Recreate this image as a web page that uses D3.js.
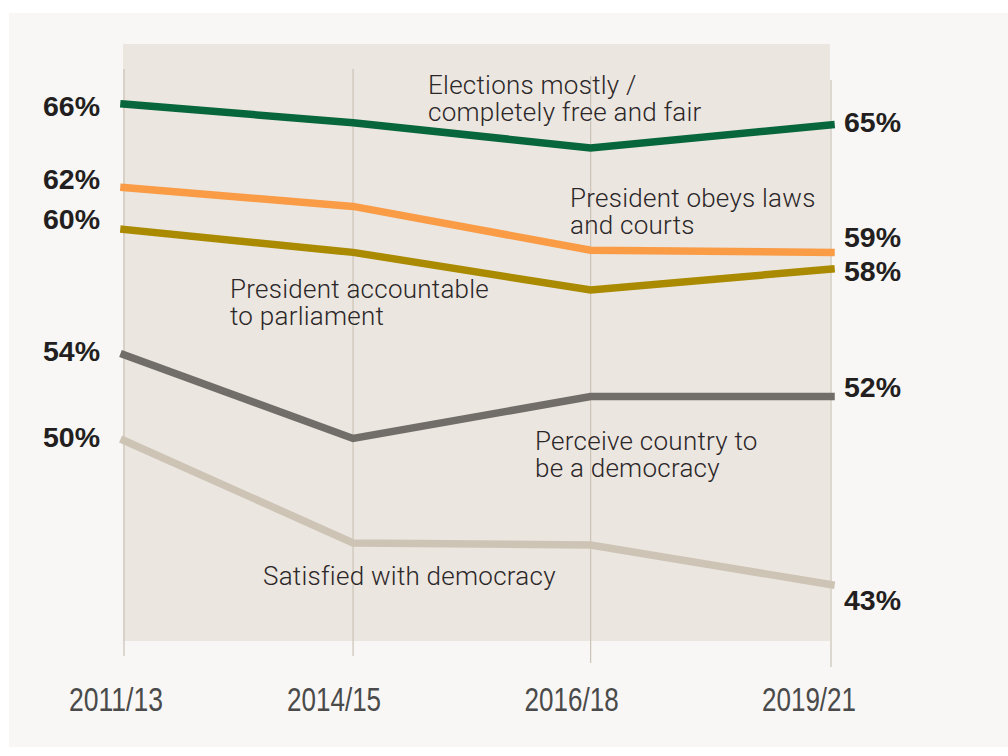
<!DOCTYPE html>
<html>
<head>
<meta charset="utf-8">
<script src="https://cdn.jsdelivr.net/npm/d3@7"></script>
<style>
  html, body { margin: 0; padding: 0; background: #ffffff; }
  svg { display: block; }
</style>
</head>
<body>
<svg id="chart" width="1008" height="756"></svg>
<script>
// ---------- DATA ----------
const periods = ["2011/13", "2014/15", "2016/18", "2019/21"];

const seriesNames = [
  "Satisfied with democracy",
  "Perceive country to be a democracy",
  "President accountable to parliament",
  "President obeys laws and courts",
  "Elections mostly / completely free and fair"
];

const satisfiedValues   = [49.9, 45.0, 44.9, 43.0];
const perceiveValues    = [54.0, 50.0, 52.0, 52.0];
const accountableValues = [60.0, 58.9, 57.1, 58.1];
const obeysValues       = [62.0, 61.1, 59.0, 58.9];
const electionsValues   = [66.0, 65.1, 63.9, 65.0];

const startLabels = ["50%", "54%", "60%", "62%", "66%"];
const endLabels   = ["43%", "52%", "58%", "59%", "65%"];

const annotationLines = [
  ["Satisfied with democracy"],
  ["Perceive country to", "be a democracy"],
  ["President accountable", "to parliament"],
  ["President obeys laws", "and courts"],
  ["Elections mostly /", "completely free and fair"]
];

// ---------- STYLE / LAYOUT ----------
const colors = ["#cdc4b5", "#716d68", "#a98a00", "#fa9b46", "#07663b"];
const startLabelShift = [-3, -4, -10, -9, 2];
const endLabelShift   = [15, -10, 2, -15, -3];
const annotationPos = [[263, 585], [535, 450], [230, 298], [570, 207], [428, 94]];
const xFrac = [0, 0.324, 0.66, 1];
const tickShift = [-8, -19, -19, -22];
const gridTop = [69, 69, 76, 80];
const gridBottom = [656, 656, 663, 667];

const plotLeft = 124, plotRight = 831;

const svg = d3.select("#chart");

// card background
svg.append("rect")
  .attr("x", 9).attr("y", 13).attr("width", 999).attr("height", 734)
  .attr("fill", "#f8f7f5");

// plot panel
svg.append("rect")
  .attr("x", 123).attr("y", 44).attr("width", 707).attr("height", 597)
  .attr("fill", "#ebe6e0");

const x = d3.scaleOrdinal()
  .domain(periods)
  .range(xFrac.map(f => plotLeft + f * (plotRight - plotLeft)));

const y = d3.scaleLinear().domain([43, 66]).range([584.7, 104]);

// grid lines
svg.append("g").selectAll("line")
  .data(periods)
  .join("line")
  .attr("x1", d => x(d)).attr("x2", d => x(d))
  .attr("y1", (d, i) => gridTop[i])
  .attr("y2", (d, i) => gridBottom[i])
  .attr("stroke", "#cbc3b6")
  .attr("stroke-width", 1.2);

// x axis labels
svg.append("g").selectAll("text")
  .data(periods)
  .join("text")
  .attr("x", (d, i) => x(d) + tickShift[i])
  .attr("y", 711)
  .attr("text-anchor", "middle")
  .attr("font-family", "'Liberation Sans Narrow', 'Liberation Sans', Arial, sans-serif")
  .attr("font-size", 33)
  .attr("textLength", 94)
  .attr("lengthAdjust", "spacingAndGlyphs")
  .attr("fill", "#4a4a4a")
  .text(d => d);

const allSeries = [satisfiedValues, perceiveValues, accountableValues, obeysValues, electionsValues];

const line = d3.line()
  .x((d, i) => x(periods[i]))
  .y(d => y(d));

// annotations (drawn beneath lines)
const annG = svg.append("g");
annotationLines.forEach((lines, si) => {
  const t = annG.append("text")
    .attr("font-family", "Roboto, 'Liberation Sans', sans-serif")
    .attr("font-weight", 300)
    .attr("font-size", 26)
    .attr("letter-spacing", 0.25)
    .attr("fill", "#2b2728");
  lines.forEach((ln, li) => {
    t.append("tspan")
      .attr("x", annotationPos[si][0])
      .attr("y", annotationPos[si][1] + li * 26.5)
      .text(ln);
  });
});

// lines
svg.append("g").selectAll("path")
  .data(allSeries)
  .join("path")
  .attr("d", d => line(d))
  .attr("fill", "none")
  .attr("stroke", (d, i) => colors[i])
  .attr("stroke-width", 7.5)
  .attr("stroke-linecap", "square")
  .attr("stroke-linejoin", "miter");

// start labels
svg.append("g").selectAll("text")
  .data(allSeries)
  .join("text")
  .attr("x", 100)
  .attr("y", (d, i) => y(d[0]) + startLabelShift[i] + 10)
  .attr("text-anchor", "end")
  .attr("font-family", "'Liberation Sans', Arial, sans-serif")
  .attr("font-weight", "bold")
  .attr("font-size", 28.5)
  .attr("fill", "#231f20")
  .text((d, i) => startLabels[i]);

// end labels
svg.append("g").selectAll("text")
  .data(allSeries)
  .join("text")
  .attr("x", 844)
  .attr("y", (d, i) => y(d[d.length - 1]) + endLabelShift[i] + 10)
  .attr("text-anchor", "start")
  .attr("font-family", "'Liberation Sans', Arial, sans-serif")
  .attr("font-weight", "bold")
  .attr("font-size", 28.5)
  .attr("fill", "#231f20")
  .text((d, i) => endLabels[i]);
</script>
</body>
</html>
